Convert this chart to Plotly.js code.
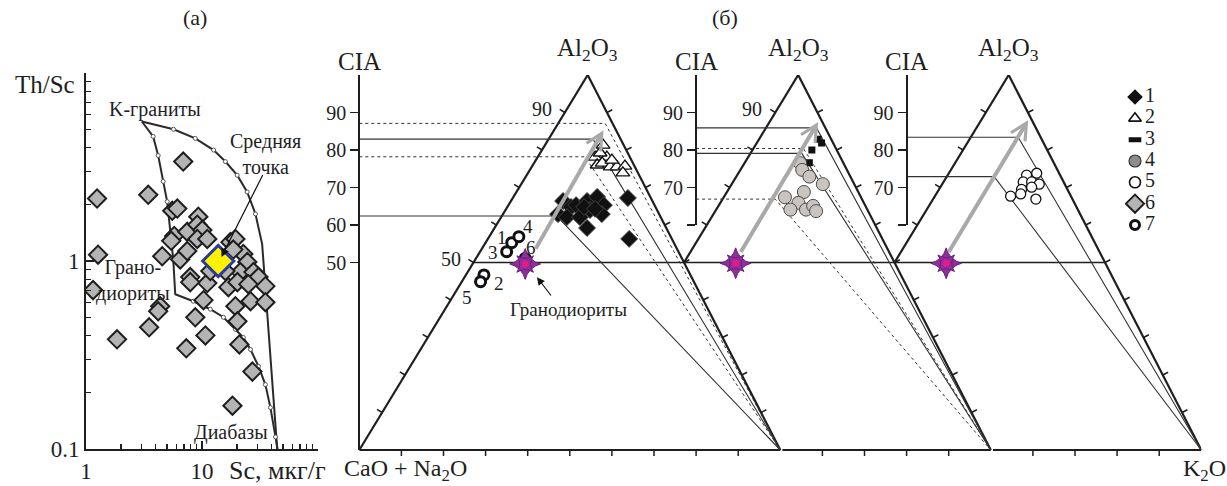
<!DOCTYPE html>
<html><head><meta charset="utf-8">
<script src="https://cdn.plot.ly/plotly-3.0.1.min.js"></script>
<style>html,body{margin:0;padding:0;background:#fff}#chart{width:1227px;height:486px}</style>
</head><body><div id="chart"></div>
<script>
// ================= DATA =================
// Panel (a): Th/Sc vs Sc (log-log)
const scSamples   = [6.89,1.245,3.44,5.54,6.12,9.29,5.76,5.43,7.46,9.11,10.06,9.11,4.54,6.49,7.46,1.27,7.92,1.15,17.6,19.4,22.7,24.6,21.4,27.8,30.7,11.1,10.3,16.9,20.2,25.1,35.2,26.2,35.2,19.4,20.2,4.36,4.19,3.50,1.85,8.75,10.7,7.32,21.0,27.2,18.3,7.92,11.1,18.6,11.8,15.9];
const thScSamples = [3.38,2.15,2.25,1.85,1.90,1.72,1.36,1.28,1.43,1.56,1.46,1.31,1.06,1.02,1.13,1.08,0.821,0.700,1.26,1.31,1.09,0.988,0.873,0.873,0.821,0.763,0.619,0.726,0.772,0.753,0.735,0.611,0.604,0.575,0.478,0.575,0.540,0.444,0.383,0.502,0.402,0.343,0.360,0.258,0.170,0.772,1.31,1.15,0.884,0.884];
const scMean = [13.8];
const thScMean = [1.0];
// mixing curves
const outerSc = [3.03,5.68,8.75,12.6,15.9,20.1,24.5,28.9,33.0,44.5];
const outerTh = [5.52,5.02,4.49,3.89,3.38,2.86,2.33,1.78,1.23,0.1];
const outerDotIdx = [1,2,3,4,5,6,7];
const innerSc = [3.03,3.79,4.19,4.63,5.01,5.65,5.88,8.41,11.8,15.3,19.4,22.7,26.2,30.7,35.2,38.9,43.0,44.8];
const innerTh = [5.52,4.60,3.64,2.65,2.07,1.02,0.666,0.611,0.554,0.502,0.433,0.392,0.338,0.275,0.220,0.166,0.116,0.1];
const innerDotIdx = [1,2,3,4,7,8,9,10,11,12,13,14,15,16];
const scTicks = [1,10,100];
const scTickText = ['1','10',''];
const thTicks = [0.1,1,10];
const thTickText = ['0.1','1',''];

// Panel (б): A–CN–K diagrams; position along base (0 = CaO+Na2O, 100 = K2O of first triangle), CIA
const g1U = [48.4,50.3,47.2,49.3,51.5,52.4,54.1,56.5,58.1,57.6,54.1,54.8,63.8,64.1,53.4,56.0];
const g1C = [66.4,64.8,62.9,62.1,65.3,62.1,66.4,67.5,65.3,62.9,59.2,64.0,67.2,56.3,64.8,64.3];
const g2U = [57.9,56.0,58.8,56.5,57.7,59.6,61.2,63.1,62.6,57.2,60.0];
const g2C = [81.3,78.1,78.1,76.0,76.5,75.5,75.5,75.7,73.9,79.2,77.3];
const g3U = [109.0,109.8,107.5,106.9];
const g3C = [82.9,81.9,80.0,76.6];
const g4U = [104.7,105.2,106.9,110.1,101.1,105.6,104.3,102.4,106.1,107.8,108.5];
const g4C = [76.5,74.7,72.9,70.9,67.4,68.8,65.9,64.1,64.1,65.1,63.7];
const g5U = [158.5,160.9,157.7,159.7,161.5,157.3,159.7,154.7,157.1,160.7];
const g5C = [73.3,73.8,71.5,71.5,70.9,69.5,70.1,67.7,68.3,66.9];
const g7U = [36.2,29.6,35.0,37.9,28.8,39.4];
const g7C = [55.3,46.7,52.9,56.9,44.9,51.1];
const g7Labels = ['1','2','3','4','5','6'];
const starU = [39.4,89.4,139.4];
const starC = [49.6,49.8,49.8];
const arrowFromU = [41.7,90.4,139.8];
const arrowFromC = [53.3,52.4,52.4];
const arrowToU = [58.0,109.0,158.9];
const arrowToC = [85.3,87.5,88.0];
// horizontal CIA levels and their break points, then to K2O apex
const trendTri  = [0,0,0,0,1,1,1,1,2,2];
const trendCIA  = [87.1,82.9,78.2,62.4,85.9,80.4,79.1,66.9,83.4,72.9];
const trendU    = [58.4,55.5,53.6,46.9,108.6,105.5,105.1,98.8,156.5,150.8];
const trendDash = ['dot','solid','dot','solid','solid','dot','solid','dot','solid','solid'];
const ciaTicks = [50,60,70,80,90];
const legendNames = ['1','2','3','4','5','6','7'];

// ================= GEOMETRY / STYLE =================
const W = 1227, H = 486;
const px2x = p => p / W;
const py2y = p => 1 - p / H;
const FONT = 'Liberation Serif, Times New Roman, serif';
const INK = '#1e1e1e';
const CMIN = -4;
const X2D = [px2x(359.3), px2x(1201.3)];
const Y2D = [py2y(450 - CMIN*3.75), py2y(75)];
const pxPerU = (X2D[1]-X2D[0])*W/200;
const pxPerC = (Y2D[1]-Y2D[0])*H/(100-CMIN);
const APEX = 54.25;
const triOff = [0,50,100];
const triCut = [0,50,50];
const axisU = [0,80,130];
const uToPaper = u => X2D[0] + u/200*(X2D[1]-X2D[0]);
const cToPaper = c => Y2D[0] + (c-CMIN)/(100-CMIN)*(Y2D[1]-Y2D[0]);

// marker styles
const M = {
  '1':{symbol:'diamond',size:13,color:'#111',line:{color:'#444',width:1}},
  '2':{symbol:'triangle-up',size:12,color:'white',line:{color:'#111',width:1.4}},
  '3':{symbol:'square',size:7,color:'#111',line:{width:0}},
  '4':{symbol:'circle',size:13,color:'#c9c4c0',line:{color:'#4a4a4a',width:1}},
  '5':{symbol:'circle',size:10,color:'white',line:{color:'#111',width:1.3}},
  '6':{symbol:'diamond',size:14,color:'#b4b4b4',line:{color:INK,width:2}},
  '7':{symbol:'circle',size:10,color:'white',line:{color:'#111',width:3}}
};
const legendMarker = {
  '1':{symbol:'diamond',size:12,color:'#111',line:{width:0}},
  '2':{symbol:'triangle-up',size:11,color:'white',line:{color:'#111',width:1.6}},
  '3':{symbol:'line-ew',size:9,color:'#111',line:{color:'#111',width:5}},
  '4':{symbol:'circle',size:12,color:'#8c8c8c',line:{color:'#333',width:1.2}},
  '5':{symbol:'circle',size:11,color:'white',line:{color:'#111',width:1.6}},
  '6':{symbol:'diamond',size:14,color:'#b4b4b4',line:{color:INK,width:2}},
  '7':{symbol:'circle',size:9,color:'white',line:{color:'#111',width:3}}
};

const traces = [];
const nolg = {showlegend:false,hoverinfo:'skip'};
// ---- panel (a) curves
traces.push(Object.assign({x:outerSc,y:outerTh,xaxis:'x',yaxis:'y',mode:'lines',line:{color:'#2a2a2a',width:2}},nolg));
traces.push(Object.assign({x:outerDotIdx.map(i=>outerSc[i]),y:outerDotIdx.map(i=>outerTh[i]),xaxis:'x',yaxis:'y',mode:'markers',marker:{symbol:'circle',size:4,color:'white',line:{color:'#555',width:1}}},nolg));
traces.push(Object.assign({x:innerSc,y:innerTh,xaxis:'x',yaxis:'y',mode:'lines',line:{color:'#2a2a2a',width:2}},nolg));
traces.push(Object.assign({x:innerDotIdx.map(i=>innerSc[i]),y:innerDotIdx.map(i=>innerTh[i]),xaxis:'x',yaxis:'y',mode:'markers',marker:{symbol:'circle',size:4,color:'white',line:{color:'#555',width:1}}},nolg));
traces.push(Object.assign({x:scSamples,y:thScSamples,xaxis:'x',yaxis:'y',mode:'markers',name:'6',marker:M['6']},nolg));
traces.push(Object.assign({x:scMean,y:thScMean,xaxis:'x',yaxis:'y',mode:'markers',
  marker:{symbol:'diamond',size:24,color:'#fff200',line:{color:'#2b3a9e',width:3}}},nolg));

// ---- panel (б) triangle edges
const ex=[], ey=[];
function seg(a,b){ex.push(a[0],b[0],null);ey.push(a[1],b[1],null);}
triOff.forEach((o,k)=>{
  const A=[o+APEX,100], K=[o+100,0];
  const Lc=triCut[k];
  seg([o+APEX*Lc/100, Lc], A);
  seg(A, K);
  seg([k===0?o:o+50.5, 0], K);
});
traces.push(Object.assign({x:ex,y:ey,xaxis:'x2',yaxis:'y2',mode:'lines',line:{color:INK,width:2.2}},nolg));
// edge ticks (perpendicular, outward)
const tx=[], ty=[];
const TL=6;
function tick(u,c,dx,dy){const n=Math.hypot(dx,dy);tx.push(u,u+dx/n*TL/pxPerU,null);ty.push(c,c-dy/n*TL/pxPerC,null);}
const lN=[-100*pxPerC,-APEX*pxPerU], rN=[100*pxPerC,-(100-APEX)*pxPerU];
triOff.forEach((o,k)=>{
  for(let c=10;c<100;c+=10){
    if(c>=Math.max(triCut[k],10) && !(k>0 && c===50)) tick(o+APEX*c/100,c,lN[0],lN[1]);
    tick(o+APEX+(100-APEX)*(1-c/100),c,rN[0],rN[1]);
  }
  const u0 = k===0?0:o+50;
  for(let u=u0+10;u<o+100;u+=10) tick(u,0,0,1);
});
traces.push(Object.assign({x:tx,y:ty,xaxis:'x2',yaxis:'y2',mode:'lines',line:{color:INK,width:1.5}},nolg));
// CIA = 50 line across
traces.push(Object.assign({x:[APEX*0.5, 100+APEX+(100-APEX)*0.5],y:[50,50],xaxis:'x2',yaxis:'y2',mode:'lines',line:{color:INK,width:1.5}},nolg));
// trend lines
trendCIA.forEach((c,i)=>{
  const k=trendTri[i];
  traces.push(Object.assign({x:[axisU[k],trendU[i],triOff[k]+100],y:[c,c,0],xaxis:'x2',yaxis:'y2',mode:'lines',
    line:{color:'#333',width:trendDash[i]==='dot'?1:1.1,dash:trendDash[i]==='dot'?'dot':'solid'}},nolg));
});
// points
traces.push(Object.assign({x:g1U,y:g1C,xaxis:'x2',yaxis:'y2',mode:'markers',name:'1',marker:M['1']},nolg));
traces.push(Object.assign({x:g2U,y:g2C,xaxis:'x2',yaxis:'y2',mode:'markers',name:'2',marker:M['2']},nolg));
traces.push(Object.assign({x:g3U,y:g3C,xaxis:'x2',yaxis:'y2',mode:'markers',name:'3',marker:M['3']},nolg));
traces.push(Object.assign({x:g4U,y:g4C,xaxis:'x2',yaxis:'y2',mode:'markers',name:'4',marker:M['4']},nolg));
traces.push(Object.assign({x:g5U,y:g5C,xaxis:'x2',yaxis:'y2',mode:'markers',name:'5',marker:M['5']},nolg));
traces.push(Object.assign({x:g7U,y:g7C,xaxis:'x2',yaxis:'y2',mode:'markers',name:'7',marker:M['7']},nolg));
// stars (granodiorite)
traces.push(Object.assign({x:starU,y:starC,xaxis:'x2',yaxis:'y2',mode:'markers',marker:{symbol:'star-diamond',size:22,color:'#8e2f9b',line:{color:'#6a1f7a',width:1}}},nolg));
traces.push(Object.assign({x:starU,y:starC,xaxis:'x2',yaxis:'y2',mode:'markers',marker:{symbol:'star-square',size:15,color:'#8e2f9b',line:{color:'#6a1f7a',width:1}}},nolg));
traces.push(Object.assign({x:starU,y:starC,xaxis:'x2',yaxis:'y2',mode:'markers',marker:{symbol:'circle',size:7,color:'#e8178a',line:{width:0}}},nolg));
// anchor traces for free CIA axes
['y3','y4','y5'].forEach(ya=>traces.push(Object.assign({x:[null],y:[null],xaxis:'x2',yaxis:ya,mode:'markers'},nolg)));
// ---- legend (own small axes: one row per class)
legendNames.forEach((nm,i)=>traces.push(Object.assign({x:[0],y:[i+1],xaxis:'x3',yaxis:'y6',mode:'markers',marker:legendMarker[nm]},nolg)));
traces.push(Object.assign({x:legendNames.map(()=>10),y:legendNames.map((_,i)=>i+1),text:legendNames,xaxis:'x3',yaxis:'y6',mode:'text',
  textposition:'middle right',textfont:{size:20,family:FONT,color:INK}},nolg));

// ================= ANNOTATIONS =================
const ann = [];
const T = (text,x,y,size,extra) => Object.assign({text,x,y,xref:'paper',yref:'paper',showarrow:false,font:{size,family:FONT,color:INK},xanchor:'center',yanchor:'middle'},extra||{});
ann.push(T('(а)',px2x(195),py2y(18),22));
ann.push(T('(б)',px2x(725),py2y(18),22));
ann.push(T('Th/Sc',px2x(45),py2y(84),25));
ann.push(T('Sc, мкг/г',px2x(277),py2y(470),26));
// panel (a) labels in data coords (log axes -> log10)
const LA = (text,sc,th,size,extra) => Object.assign({text,x:Math.log10(sc),y:Math.log10(th),xref:'x',yref:'y',showarrow:false,font:{size,family:FONT,color:INK}},extra||{});
ann.push(LA('K-граниты',3.95,6.42,20));
ann.push(LA('Средняя<br>точка',35.5,3.7,20));
ann.push(LA('Грано-<br>диориты',2.55,0.79,20));
ann.push(LA('Диабазы',17.9,0.123,20));
ann.push({x:Math.log10(14.7),y:Math.log10(1.05),xref:'x',yref:'y',axref:'x',ayref:'y',ax:Math.log10(33.9),ay:Math.log10(2.92),
  text:'',showarrow:true,arrowhead:2,arrowsize:1.4,arrowwidth:1.2,arrowcolor:'#111'});
// panel (б) labels
['CIA','CIA','CIA'].forEach((t,k)=>ann.push(T(t,uToPaper(axisU[k]),py2y(62),25)));
triOff.forEach(o=>ann.push(T('Al<sub>2</sub>O<sub>3</sub>',uToPaper(o+APEX),py2y(50),25)));
ann.push(T('CaO + Na<sub>2</sub>O',px2x(405),py2y(470),24));
ann.push(T('K<sub>2</sub>O',px2x(1204),py2y(470),24));
// edge labels
const D = (text,u,c,size,extra) => Object.assign({text,x:u,y:c,xref:'x2',yref:'y2',showarrow:false,font:{size,family:FONT,color:INK}},extra||{});
ann.push(D('90',APEX*0.9,90,20,{xshift:-23,yshift:4}));
ann.push(D('50',APEX*0.5,50,20,{xshift:-23,yshift:4}));
ann.push(D('90',50+APEX*0.9,90,20,{xshift:-23,yshift:4}));
// ring labels
const ringLabU = [34.0,33.3,31.8,40.0,25.6,40.8];
const ringLabC = [56.8,44.5,52.8,59.5,40.8,54.1];
g7Labels.forEach((t,i)=>ann.push(D(t,ringLabU[i],ringLabC[i],19)));
ann.push(D('Гранодиориты',49.8,37.6,19));
ann.push({x:42.2,y:46.1,xref:'x2',yref:'y2',axref:'x2',ayref:'y2',ax:45.8,ay:40.8,text:'',showarrow:true,arrowhead:2,arrowsize:1.3,arrowwidth:1.2,arrowcolor:'#111'});
// gray arrows
arrowToU.forEach((u,i)=>ann.push({x:u,y:arrowToC[i],xref:'x2',yref:'y2',axref:'x2',ayref:'y2',ax:arrowFromU[i],ay:arrowFromC[i],
  text:'',showarrow:true,arrowhead:5,arrowsize:0.8,arrowwidth:4,arrowcolor:'#a9a9a9'}));

// ================= LAYOUT =================
const logAxis = (dom,range,vals,text,anchor,minorVals) => ({
  type:'log',domain:dom,range,anchor,showline:true,linecolor:INK,linewidth:2,mirror:false,
  ticks:'inside',ticklen:8,tickwidth:1.5,tickcolor:INK,tickmode:'array',tickvals:vals,ticktext:text,
  tickfont:{size:23,family:FONT,color:INK},showgrid:false,zeroline:false,fixedrange:true,
  minor:{ticks:'inside',ticklen:5,tickwidth:1.2,tickcolor:INK,tickmode:'array',tickvals:minorVals,showgrid:false}
});
const minorX=[2,3,4,5,6,7,8,9,20,30,40,50,60,70,80,90];
const minorY=[0.2,0.3,0.4,0.5,0.6,0.7,0.8,0.9,2,3,4,5,6,7,8,9];
const ciaAxis = (pos,extra) => Object.assign({anchor:'free',position:pos,side:'left',showline:true,linecolor:INK,linewidth:2,
  ticks:'outside',ticklen:8,tickwidth:1.5,tickcolor:INK,tickmode:'array',tickfont:{size:20,family:FONT,color:INK},
  showgrid:false,zeroline:false,fixedrange:true},extra);

const layout = {
  width:W,height:H,margin:{l:0,r:0,t:0,b:0},paper_bgcolor:'white',plot_bgcolor:'rgba(0,0,0,0)',
  font:{family:FONT,color:INK,size:18},
  showlegend:false,
  xaxis:logAxis([px2x(86),px2x(318)],[0,2],scTicks,scTickText,'y',minorX),
  yaxis:logAxis([py2y(449),py2y(73)],[-1,1],thTicks,thTickText,'x',minorY),
  xaxis2:{domain:X2D,range:[0,200],anchor:'y2',visible:false,fixedrange:true},
  yaxis2:{domain:Y2D,range:[CMIN,100],anchor:'x2',visible:false,fixedrange:true},
  yaxis3:ciaAxis(uToPaper(axisU[0]),{domain:[cToPaper(0),Y2D[1]],range:[0,100],tickvals:ciaTicks,ticktext:ciaTicks.map(String)}),
  yaxis4:ciaAxis(uToPaper(axisU[1]),{domain:[cToPaper(60),Y2D[1]],range:[60,100],tickvals:[60,70,80,90],ticktext:['','70','80','90']}),
  yaxis5:ciaAxis(uToPaper(axisU[2]),{domain:[cToPaper(60),Y2D[1]],range:[60,100],tickvals:[60,70,80,90],ticktext:['','70','80','90']}),
  xaxis3:{domain:[px2x(1125),px2x(1185)],range:[-10,50],anchor:'y6',visible:false,fixedrange:true},
  yaxis6:{domain:[py2y(97+6.5*21.33),py2y(97-0.5*21.33)],range:[7.5,0.5],anchor:'x3',visible:false,fixedrange:true},
  annotations:ann
};
Plotly.newPlot('chart',traces,layout,{staticPlot:true,displayModeBar:false});
</script></body></html>
